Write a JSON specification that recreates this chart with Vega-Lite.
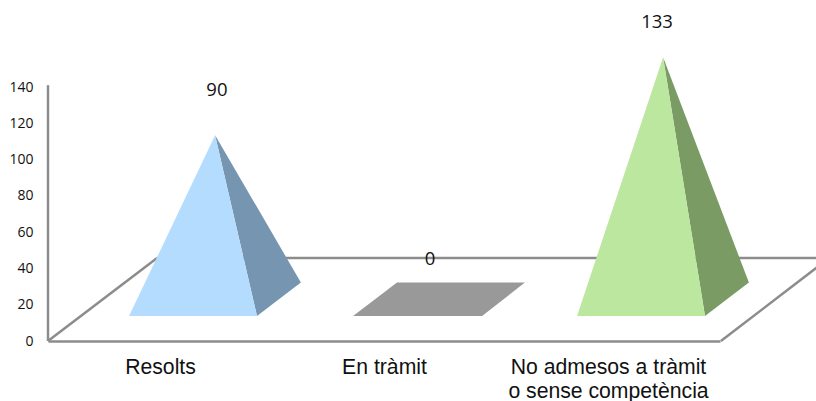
{
  "$schema": "https://vega.github.io/schema/vega-lite/v6.json",
  "width": 816,
  "height": 341,
  "autosize": "none",
  "padding": {"left": 0, "top": 0, "right": 0, "bottom": 60},
  "background": "white",
  "view": {"stroke": null},
  "datasets": {
    "floor": [
      {"edge": "left wall", "x": 0, "y": 0, "x2": 0, "y2": 141},
      {"edge": "left side", "x": 0, "y": 0, "x2": 0.487, "y2": 45.7},
      {"edge": "back", "x": 0.487, "y": 45.7, "x2": 3.5, "y2": 45.7},
      {"edge": "right side", "x": 3.004, "y": 0, "x2": 3.487, "y2": 45.7}
    ],
    "faces": [
      {"face": "Resolts side", "x": 0.746, "top": 90, "bottom": 90},
      {"face": "Resolts side", "x": 0.933, "top": 50.4, "bottom": -9.6},
      {"face": "Resolts side", "x": 1.129, "top": 8.8, "bottom": 8.8},
      {"face": "Resolts front", "x": 0.362, "top": -9.6, "bottom": -9.6},
      {"face": "Resolts front", "x": 0.746, "top": 90, "bottom": -9.6},
      {"face": "Resolts front", "x": 0.933, "top": -9.6, "bottom": -9.6},
      {"face": "En tràmit base", "x": 1.362, "top": -9.6, "bottom": -9.6},
      {"face": "En tràmit base", "x": 1.558, "top": 8.8, "bottom": -9.6},
      {"face": "En tràmit base", "x": 1.938, "top": 8.8, "bottom": -9.6},
      {"face": "En tràmit base", "x": 2.129, "top": 8.8, "bottom": 8.8},
      {"face": "No admesos side", "x": 2.746, "top": 133, "bottom": 133},
      {"face": "No admesos side", "x": 2.933, "top": 72.4, "bottom": -9.6},
      {"face": "No admesos side", "x": 3.129, "top": 8.8, "bottom": 8.8},
      {"face": "No admesos front", "x": 2.362, "top": -9.6, "bottom": -9.6},
      {"face": "No admesos front", "x": 2.746, "top": 133, "bottom": -9.6},
      {"face": "No admesos front", "x": 2.933, "top": -9.6, "bottom": -9.6}
    ],
    "labels": [
      {"category": "Resolts", "value": 90, "x": 0.754, "y": 138.5},
      {"category": "En tràmit", "value": 0, "x": 1.705, "y": 45.4},
      {"category": "No admesos a tràmit o sense competència", "value": 133, "x": 2.719, "y": 176}
    ]
  },
  "layer": [
    {
      "data": {"name": "floor"},
      "mark": {"type": "rule", "color": "#8c8c8c", "strokeWidth": 2.5},
      "encoding": {
        "x": {
          "field": "x",
          "type": "quantitative",
          "scale": {"domain": [0, 3], "range": [48, 720], "nice": false, "zero": false},
          "axis": {
            "title": null,
            "grid": false,
            "ticks": false,
            "values": [0.5, 1.5, 2.5],
            "domainColor": "#8c8c8c",
            "domainWidth": 2.5,
            "labelFont": "Liberation Sans",
            "labelFontSize": 21.2,
            "labelColor": "#111111",
            "labelPadding": 15,
            "labelLineHeight": 24,
            "labelLimit": 400,
            "labelAngle": 0,
            "labelOverlap": false,
            "labelFlush": false,
            "labelExpr": "datum.value == 0.5 ? 'Resolts' : datum.value == 1.5 ? 'En tràmit' : ['No admesos a tràmit', 'o sense competència']"
          }
        },
        "x2": {"field": "x2"},
        "y": {
          "field": "y",
          "type": "quantitative",
          "scale": {"domain": [0, 140], "range": [341, 87], "nice": false},
          "axis": {
            "title": null,
            "grid": false,
            "ticks": false,
            "domain": false,
            "offset": -48,
            "values": [0, 20, 40, 60, 80, 100, 120, 140],
            "labelFont": "Open Sans",
            "labelFontSize": 14,
            "labelColor": "#111111",
            "labelPadding": 15
          }
        },
        "y2": {"field": "y2"}
      }
    },
    {
      "data": {"name": "faces"},
      "mark": {"type": "area", "orient": "vertical", "interpolate": "linear"},
      "encoding": {
        "x": {"field": "x", "type": "quantitative"},
        "y": {
          "field": "top",
          "type": "quantitative",
          "stack": null,
          "scale": {"domain": [-23.4, 116.6], "range": [341, 87], "nice": false, "zero": false},
          "axis": null
        },
        "y2": {"field": "bottom"},
        "color": {
          "field": "face",
          "type": "nominal",
          "legend": null,
          "scale": {
            "domain": ["Resolts side", "Resolts front", "En tràmit base", "No admesos side", "No admesos front"],
            "range": ["#7695b0", "#b3dcff", "#999999", "#7a9b63", "#bbe79e"]
          }
        }
      }
    },
    {
      "data": {"name": "labels"},
      "mark": {"type": "text", "font": "Open Sans", "fontSize": 18.5, "color": "#111111", "align": "center", "baseline": "middle"},
      "encoding": {
        "x": {"field": "x", "type": "quantitative"},
        "y": {
          "field": "y",
          "type": "quantitative",
          "scale": {"domain": [0, 140], "range": [341, 87], "nice": false},
          "axis": null
        },
        "text": {"field": "value", "type": "quantitative"}
      }
    }
  ],
  "resolve": {"scale": {"y": "independent", "color": "independent"}}
}
